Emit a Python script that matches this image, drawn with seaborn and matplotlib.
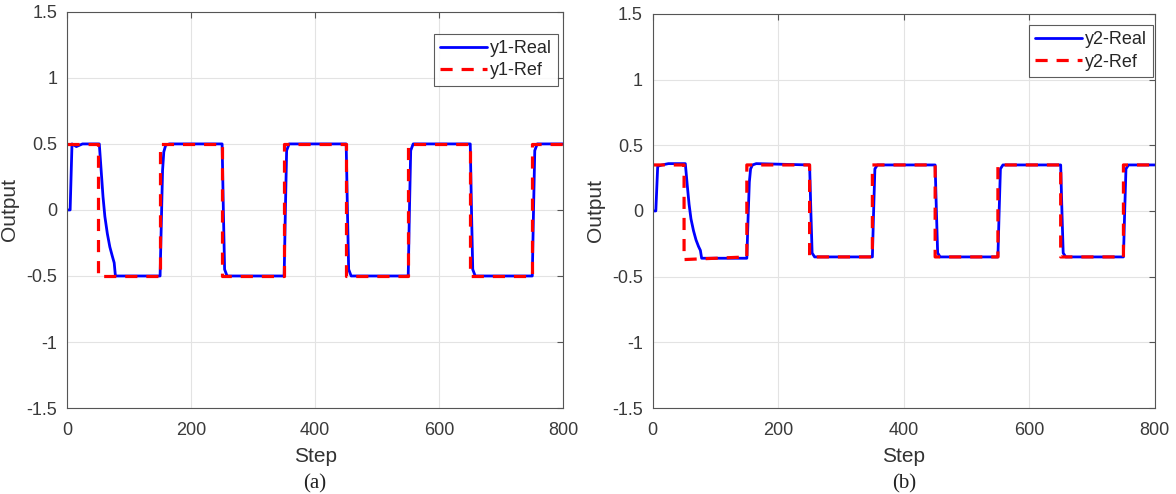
import numpy as np
import pandas as pd
import matplotlib
matplotlib.use('Agg')
import matplotlib.pyplot as plt
import seaborn as sns

# reference signals (piecewise constant), breakpoints
ref_step = [0, 50, 50, 150, 150, 250, 250, 350, 350, 450, 450, 550, 550, 650, 650, 750, 750, 800]
ref1_val = [0.5, 0.5, -0.5, -0.5, 0.5, 0.5, -0.5, -0.5, 0.5, 0.5, -0.5, -0.5, 0.5, 0.5, -0.5, -0.5, 0.5, 0.5]
ref2_val = [0.35, 0.35, -0.37, -0.35, 0.35, 0.35, -0.35, -0.35, 0.35, 0.35, -0.35, -0.35, 0.35, 0.35, -0.35, -0.35, 0.35, 0.35]

# real outputs
real_step = [0, 5, 8, 15, 25, 52, 55, 58, 61, 65, 69, 73, 76, 78, 150, 152, 154, 156, 159, 165,
             250, 252, 254, 258, 350, 352, 354, 358, 450, 452, 454, 458, 550, 552, 554, 558,
             650, 652, 654, 658, 750, 752, 754, 758, 800]
real1_val = [0, 0, 0.5, 0.48, 0.5, 0.5, 0.3, 0.1, -0.05, -0.18, -0.28, -0.35, -0.4, -0.5, -0.5, -0.1, 0.3, 0.44, 0.49, 0.5,
             0.5, 0.0, -0.45, -0.5, -0.5, 0.0, 0.45, 0.5, 0.5, 0.0, -0.45, -0.5, -0.5, 0.0, 0.45, 0.5,
             0.5, 0.0, -0.45, -0.5, -0.5, 0.0, 0.45, 0.5, 0.5]
real2_val = [0, 0, 0.34, 0.35, 0.36, 0.36, 0.2, 0.05, -0.06, -0.15, -0.22, -0.27, -0.3, -0.36, -0.36, -0.05, 0.22, 0.32, 0.35, 0.36,
             0.35, 0.0, -0.32, -0.35, -0.35, 0.0, 0.32, 0.35, 0.35, 0.0, -0.32, -0.35, -0.35, 0.0, 0.32, 0.35,
             0.35, 0.0, -0.32, -0.35, -0.35, 0.0, 0.32, 0.35, 0.35]

yticks = [-1.5, -1, -0.5, 0, 0.5, 1, 1.5]
ytick_labels = ['-1.5', '-1', '-0.5', '0', '0.5', '1', '1.5']
xticks = [0, 200, 400, 600, 800]

sns.set_style('white')
plt.rcParams['font.family'] = ['Liberation Sans', 'DejaVu Sans']
plt.rcParams['axes.unicode_minus'] = False

fig = plt.figure(figsize=(11.76, 4.94), dpi=100)
ax1 = fig.add_axes([0.057, 0.174, 0.422, 0.802])
ax2 = fig.add_axes([0.555, 0.174, 0.427, 0.798])

# legend anchor (upper right corner, axes coords) for each panel
panels = [(ax1, real1_val, ref1_val, 'y1', '(a)', (0.990, 0.945)),
          (ax2, real2_val, ref2_val, 'y2', '(b)', (0.996, 0.972))]
for ax, real, ref, name, tag, anchor in panels:
    sns.lineplot(x=real_step, y=real, ax=ax, color='#0000ff', linewidth=2.0,
                 label=name + '-Real', estimator=None, sort=False)
    sns.lineplot(x=ref_step, y=ref, ax=ax, color='#ff0000', linewidth=2.3,
                 linestyle=(0, (3.8, 2.8)), label=name + '-Ref', estimator=None, sort=False)
    ax.set_xlim(0, 800)
    ax.set_ylim(-1.5, 1.5)
    ax.set_xticks(xticks)
    ax.set_yticks(yticks)
    ax.set_yticklabels(ytick_labels)
    ax.grid(True, color='#e3e3e3', linewidth=0.8)
    ax.set_axisbelow(True)
    for s in ax.spines.values():
        s.set_color('#555555')
        s.set_linewidth(0.8)
    ax.tick_params(direction='in', length=4, color='#555555', labelsize=13,
                   labelcolor='#3a3a3a', top=True, right=True)
    ax.tick_params(axis='x', pad=10)
    ax.tick_params(axis='y', pad=7)
    ax.set_xlabel('Step', fontsize=15, color='#333333', labelpad=6)
    ax.set_ylabel('Output', fontsize=15, color='#333333', labelpad=5)
    leg = ax.legend(loc='upper right', bbox_to_anchor=anchor, fontsize=13, frameon=True,
                    fancybox=False, handlelength=2.6, borderpad=0.35, labelspacing=0.3,
                    handletextpad=0.15, borderaxespad=0.0)
    leg.get_frame().set_edgecolor('#333333')
    leg.get_frame().set_linewidth(0.8)
    pos = ax.get_position()
    fig.text((pos.x0 + pos.x1) / 2, 0.001, tag, ha='center', va='bottom',
             fontsize=15, family='Liberation Serif', color='#222222')

fig.savefig('out.png', dpi=100)
